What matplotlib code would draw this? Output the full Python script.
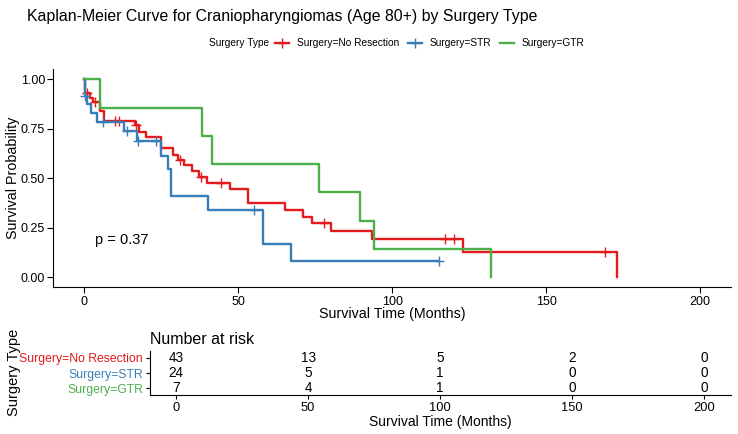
import numpy as np
import matplotlib
matplotlib.use("Agg")
import matplotlib.pyplot as plt
from matplotlib.lines import Line2D

plt.rcParams['font.family'] = ['Liberation Sans', 'DejaVu Sans']

# step curves (time in months, survival after the step)
nores_t = [0, 0.3, 1.9, 2.9, 5.2, 6.3, 16.4, 17.8, 20.0, 25.1, 28.7, 30.6, 32.4,
           35.1, 37.3, 40.0, 47.3, 53.3, 65.1, 71.1, 74.0, 80.2, 93.5, 123.0, 173.0]
nores_s = [1.0, 0.93, 0.907, 0.884, 0.84, 0.79, 0.769, 0.735, 0.71, 0.654, 0.62, 0.592,
           0.565, 0.536, 0.507, 0.477, 0.444, 0.376, 0.342, 0.307, 0.275, 0.233, 0.194, 0.129, 0.0]
nores_cens = [0.9, 3.5, 10.0, 11.2, 17.0, 31.0, 38.0, 44.3, 78.0, 117.0, 120.0, 169.2]

str_t = [0, 0.2, 1.1, 2.2, 4.1, 13.0, 17.3, 25.1, 27.2, 28.1, 40.2, 58.2, 67.2, 115.1]
str_s = [1.0, 0.917, 0.875, 0.828, 0.786, 0.738, 0.688, 0.614, 0.546, 0.41, 0.342, 0.171, 0.085, 0.085]
str_cens = [0.3, 6.2, 14.0, 17.5, 23.2, 55.1, 115.1]

gtr_t = [0, 5.3, 38.4, 41.4, 76.3, 89.4, 94.2, 132.2]
gtr_s = [1.0, 0.857, 0.714, 0.571, 0.429, 0.286, 0.143, 0.0]
gtr_cens = []

groups = ['Surgery=No Resection', 'Surgery=STR', 'Surgery=GTR']
colors = ['#E41A1C', '#377EB8', '#4DAF4A']

risk_times = [0, 50, 100, 150, 200]
risk_nores = [43, 13, 5, 2, 0]
risk_str = [24, 5, 1, 0, 0]
risk_gtr = [7, 4, 1, 0, 0]

curves = [(nores_t, nores_s, nores_cens), (str_t, str_s, str_cens), (gtr_t, gtr_s, gtr_cens)]
risks = [risk_nores, risk_str, risk_gtr]

fig = plt.figure(figsize=(7.38, 4.34), dpi=100)

ax = fig.add_axes([0.0722, 0.338, 0.9184, 0.502])
for (t, s, c), col in zip(curves, colors):
    ax.step(t, s, where='post', color=col, lw=1.7)
    if c:
        idx = np.searchsorted(t, c, side='right') - 1
        ax.plot(c, np.array(s)[idx], ls='none', marker='+', ms=7, mew=1.0, color=col)

ax.set_xlim(-10, 210)
ax.set_ylim(-0.05, 1.05)
ax.set_xticks([0, 50, 100, 150, 200])
ax.set_yticks([0, 0.25, 0.5, 0.75, 1.0])
ax.set_yticklabels(['0.00', '0.25', '0.50', '0.75', '1.00'])
for sp in ['top', 'right']:
    ax.spines[sp].set_visible(False)
ax.tick_params(labelsize=9, length=4, pad=2, colors='black')
ax.set_xlabel('Survival Time (Months)', fontsize=10.3)
ax.set_ylabel('Survival Probability', fontsize=10.3)
ax.xaxis.set_label_coords(0.5, -0.124)
ax.xaxis.label.set_va('center')
ax.yaxis.set_label_coords(-0.0595, 0.5)
ax.yaxis.label.set_va('center')
ax.text(12.3, 0.187, 'p = 0.37', fontsize=10.5, ha='center', va='center')

fig.text(27 / 738, 1 - 16 / 434, 'Kaplan-Meier Curve for Craniopharyngiomas (Age 80+) by Surgery Type',
         fontsize=11.4, ha='left', va='center')

# legend with title on the left
fig.text(209 / 738, 1 - 43.5 / 434, 'Surgery Type', fontsize=7.3, ha='left', va='center')
handles = [Line2D([], [], color=colors[0], lw=1.7, marker='+', ms=7, mew=1.0),
           Line2D([], [], color=colors[1], lw=1.7, marker='+', ms=7, mew=1.0),
           Line2D([], [], color=colors[2], lw=1.7)]
fig.legend(handles, groups, loc='center left', bbox_to_anchor=(275 / 738, 1 - 43.5 / 434),
           ncol=3, frameon=False, fontsize=7.3, handlelength=1.4, handletextpad=0.8,
           columnspacing=0.8, borderaxespad=0, borderpad=0)

# risk table
ax2 = fig.add_axes([0.203, 0.090, 0.787, 0.101])
ax2.set_xlim(-10, 210)
ax2.set_ylim(0.55, 3.45)
rows = [3, 2, 1]
for r, n in zip(rows, risks):
    for t, v in zip(risk_times, n):
        ax2.text(t, r, str(v), ha='center', va='center', fontsize=9.8)
ax2.set_yticks(rows)
ax2.set_yticklabels(groups, fontsize=8.8)
ax2.set_xticks(risk_times)
ax2.set_xticklabels([str(t) for t in risk_times], fontsize=9.3)
for sp in ['top', 'right']:
    ax2.spines[sp].set_visible(False)
ax2.tick_params(length=3, pad=2, colors='black')
for lab, col in zip(ax2.get_yticklabels(), colors):
    lab.set_color(col)
ax2.set_xlabel('Survival Time (Months)', fontsize=10, labelpad=1)
ax2.set_title('Number at risk', fontsize=11.5, loc='left', pad=5)
fig.text(14 / 738, 1 - 372 / 434, 'Surgery Type', rotation=90, fontsize=10.5, ha='center', va='center')

fig.savefig('out.png', dpi=100)
